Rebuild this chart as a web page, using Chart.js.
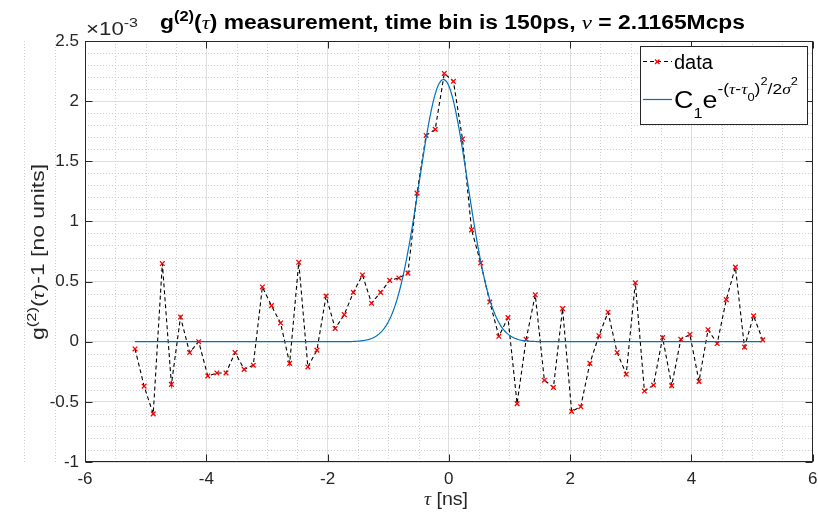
<!DOCTYPE html>
<html><head><meta charset="utf-8">
<script src="https://cdn.jsdelivr.net/npm/chart.js@4"></script>
<style>html,body{margin:0;padding:0;background:#fff}canvas{display:block}</style>
</head><body>
<canvas id="c" width="818" height="512"></canvas>
<script>
// ---- data (g2 values in units of 1e-3) ----
const tauNs = [-5.175,-5.025,-4.875,-4.725,-4.575,-4.425,-4.275,-4.125,-3.975,-3.825,
  -3.675,-3.525,-3.375,-3.225,-3.075,-2.925,-2.775,-2.625,-2.475,-2.325,
  -2.175,-2.025,-1.875,-1.725,-1.575,-1.425,-1.275,-1.125,-0.975,-0.825,
  -0.675,-0.525,-0.375,-0.225,-0.075,0.075,0.225,0.375,0.525,0.675,
  0.825,0.975,1.125,1.275,1.425,1.575,1.725,1.875,2.025,2.175,
  2.325,2.475,2.625,2.775,2.925,3.075,3.225,3.375,3.525,3.675,
  3.825,3.975,4.125,4.275,4.425,4.575,4.725,4.875,5.025,5.175];
const g2Minus1 = [-0.06,-0.37,-0.60,0.65,-0.355,0.205,-0.09,0.00,-0.285,-0.26,
  -0.26,-0.09,-0.23,-0.195,0.455,0.30,0.155,-0.18,0.66,-0.21,
  -0.07,0.38,0.11,0.225,0.41,0.555,0.32,0.41,0.51,0.53,
  0.57,1.235,1.715,1.765,2.23,2.165,1.685,0.93,0.655,0.33,
  0.045,0.20,-0.515,0.02,0.39,-0.32,-0.38,0.275,-0.58,-0.54,
  -0.18,0.05,0.245,-0.09,-0.27,0.49,-0.41,-0.36,0.035,-0.365,
  0.02,0.06,-0.33,0.10,-0.015,0.35,0.62,-0.045,0.215,0.015];
// Gaussian fit parameters: C1*exp(-(tau-tau0)^2/(2 sigma^2))
const fitC1 = 2.18, fitTau0 = -0.09, fitSigma = 0.40;
const xTickVals = [-6,-4,-2,0,2,4,6];
const yTickVals = [-1,-0.5,0,0.5,1,1.5,2,2.5];

const fitPts = [];
for (let t = tauNs[0]; t <= tauNs[tauNs.length-1] + 1e-9; t += 0.02) {
  fitPts.push({x:t, y: fitC1*Math.exp(-Math.pow(t-fitTau0,2)/(2*fitSigma*fitSigma))});
}

const SANS = '"Liberation Sans", Arial, Helvetica, sans-serif';
const SERIF = '"Liberation Serif", "Times New Roman", serif';
const AX = '#262626';

function fontOf(r, s){ return (r.it?'italic ':'')+(r.b?'bold ':'')+(s*(r.k||1)).toFixed(2)+'px '+(r.serif?SERIF:SANS); }
function runsWidth(ctx, runs, s){ let w=0; for(const r of runs){ ctx.font=fontOf(r,s); w+=ctx.measureText(r.t).width; } return w; }
function drawRuns(ctx, runs, x, y, s){ let cx=x; for(const r of runs){ ctx.font=fontOf(r,s); ctx.fillText(r.t, cx, y+(r.dy||0)*s); cx+=ctx.measureText(r.t).width; } }
function drawRunsFit(ctx, runs, x, y, s, target){
  const w = runsWidth(ctx, runs, s); const sx = target ? target/w : 1;
  ctx.save(); ctx.translate(x, y); ctx.scale(sx, 1); drawRuns(ctx, runs, 0, 0, s); ctx.restore();
}

const decor = {
  id: 'decor',
  beforeDatasetsDraw(chart){
    const {ctx, chartArea:a, scales:{x, y}} = chart;
    ctx.save(); ctx.strokeStyle = '#cfcfcf'; ctx.lineWidth = 1; ctx.setLineDash([1,2]);
    for (let i = -24; i <= 24; i++) { if (i % 4 === 0) continue;
      const px = Math.round(x.getPixelForValue(i*0.5)) + 0.5;
      ctx.beginPath(); ctx.moveTo(px, a.top); ctx.lineTo(px, a.bottom); ctx.stroke(); }
    for (let i = -10; i <= 25; i++) { if (i % 5 === 0) continue;
      const py = Math.round(y.getPixelForValue(i*0.1)) + 0.5;
      ctx.beginPath(); ctx.moveTo(a.left, py); ctx.lineTo(a.right, py); ctx.stroke(); }
    ctx.restore();
  },
  afterDatasetsDraw(chart){
    const {ctx, chartArea:a, scales:{x, y}} = chart;
    ctx.save(); ctx.strokeStyle = AX; ctx.lineWidth = 1; ctx.setLineDash([]);
    const L = Math.round(a.left)+0.5, R = Math.round(a.right)-0.5, T = Math.round(a.top)+0.5, B = Math.round(a.bottom)-0.5;
    ctx.strokeRect(L, T, R-L, B-T);
    const tl = 7;
    ctx.beginPath();
    for (const v of xTickVals) { const px = Math.round(x.getPixelForValue(v))+0.5;
      ctx.moveTo(px, B); ctx.lineTo(px, B-tl); ctx.moveTo(px, T); ctx.lineTo(px, T+tl); }
    for (const v of yTickVals) { const py = Math.round(y.getPixelForValue(v))+0.5;
      ctx.moveTo(L, py); ctx.lineTo(L+tl, py); ctx.moveTo(R, py); ctx.lineTo(R-tl, py); }
    ctx.stroke();
    ctx.restore();
  },
  afterDraw(chart){
    const {ctx} = chart;
    ctx.save(); ctx.fillStyle = '#000'; ctx.textBaseline = 'alphabetic'; ctx.textAlign = 'left';
    // exponent
    ctx.fillStyle = AX;
    drawRunsFit(ctx, [{t:'\u00d710'},{t:'-3', k:0.72, dy:-0.42}], 86, 35, 18.5, 52);
    // title
    ctx.fillStyle = '#000';
    drawRunsFit(ctx, [{t:'g',b:1},{t:'(2)',b:1,k:0.72,dy:-0.42},{t:'(',b:1},{t:'\u03c4',it:1,serif:1},
      {t:') measurement, time bin is 150ps, ',b:1},{t:'\u03bd',it:1,serif:1},{t:' = 2.1165Mcps',b:1}], 160, 29, 19.5, 585);
    // x label
    ctx.fillStyle = AX;
    drawRunsFit(ctx, [{t:'\u03c4',it:1,serif:1},{t:' [ns]'}], 424, 505, 18, 44);
    // y label
    ctx.save(); ctx.translate(44, 340); ctx.rotate(-Math.PI/2);
    drawRunsFit(ctx, [{t:'g'},{t:'(2)',k:0.72,dy:-0.42},{t:'('},{t:'\u03c4',it:1,serif:1},{t:')-1 [no units]'}], 0, 0, 18, 176);
    ctx.restore();
    // legend
    const lx = 640.5, ly = 46.5, lw = 167, lh = 78;
    ctx.fillStyle = '#fff'; ctx.fillRect(lx, ly, lw, lh);
    ctx.strokeStyle = AX; ctx.lineWidth = 1; ctx.strokeRect(lx, ly, lw, lh);
    // data sample
    ctx.strokeStyle = '#000'; ctx.lineWidth = 1; ctx.setLineDash([4,3]);
    ctx.beginPath(); ctx.moveTo(643, 61.5); ctx.lineTo(672, 61.5); ctx.stroke();
    ctx.setLineDash([]);
    ctx.strokeStyle = '#ff0000'; ctx.lineWidth = 1.3;
    ctx.beginPath(); ctx.moveTo(655, 59.5); ctx.lineTo(659.5, 64); ctx.moveTo(659.5, 59.5); ctx.lineTo(655, 64); ctx.stroke();
    ctx.fillStyle = '#000';
    drawRuns(ctx, [{t:'data'}], 674, 69, 20);
    // fit sample
    ctx.strokeStyle = '#0072BD'; ctx.lineWidth = 1.2;
    ctx.beginPath(); ctx.moveTo(643, 99.5); ctx.lineTo(672, 99.5); ctx.stroke();
    drawRunsFit(ctx, [{t:'C',k:1.15},{t:'1',k:0.7,dy:0.5},{t:'e',k:1.15},
      {t:'-(',k:0.75,dy:-0.7},{t:'\u03c4',it:1,serif:1,k:0.75,dy:-0.7},{t:'-',k:0.75,dy:-0.7},{t:'\u03c4',it:1,serif:1,k:0.75,dy:-0.7},
      {t:'0',k:0.55,dy:-0.33},{t:')',k:0.75,dy:-0.7},{t:'2',k:0.55,dy:-1.15},{t:'/2',k:0.75,dy:-0.7},
      {t:'\u03c3',it:1,serif:1,k:0.75,dy:-0.7},{t:'2',k:0.55,dy:-1.15}], 674, 108, 20, 124);
    ctx.restore();
  }
};

new Chart(document.getElementById('c'), {
  type: 'scatter',
  data: { datasets: [
    { label:'data', data: tauNs.map((t,i)=>({x:t, y:g2Minus1[i]})), showLine:true, order:1,
      borderColor:'#000', borderWidth:1.1, borderDash:[4,3], tension:0,
      pointStyle:'crossRot', pointRadius:3.3, pointBorderColor:'#ff0000', pointBorderWidth:1.3, pointBackgroundColor:'#ff0000' },
    { label:'fit', data: fitPts, showLine:true, order:0, borderColor:'#0072BD', borderWidth:1.2, pointRadius:0, tension:0 }
  ]},
  options: {
    responsive:false, animation:false, devicePixelRatio:1,
    layout:{ padding:{ top:41, right:4, left:0, bottom:0 } },
    plugins:{ legend:{display:false}, title:{display:false}, tooltip:{enabled:false} },
    scales:{
      x:{ type:'linear', min:-6, max:6,
        afterBuildTicks: s => { s.ticks = xTickVals.map(v=>({value:v})); },
        afterFit: s => { s.height = 50; s.paddingLeft = 0; s.paddingRight = 0; },
        ticks:{ autoSkip:false, maxRotation:0, padding:7, color:AX, font:{family:SANS, size:17}, callback: v => String(v) },
        grid:{ color:'#dedede', lineWidth:1, drawTicks:false }, border:{display:false} },
      y:{ type:'linear', min:-1, max:2.5,
        afterBuildTicks: s => { s.ticks = yTickVals.map(v=>({value:v})); },
        afterFit: s => { s.width = 85; s.paddingTop = 0; s.paddingBottom = 0; },
        ticks:{ autoSkip:false, padding:6, color:AX, font:{family:SANS, size:17}, callback: v => String(v) },
        grid:{ color:'#dedede', lineWidth:1, drawTicks:false }, border:{display:false} }
    }
  },
  plugins:[decor]
});
</script>
</body></html>
